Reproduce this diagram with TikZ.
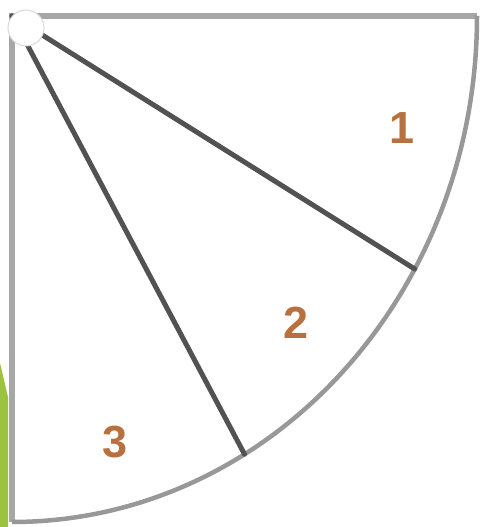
\documentclass[tikz,border=0pt]{standalone}
\usepackage{xcolor}
\usepackage{fontspec}
\newfontfamily\labelfont{Liberation Sans}
\usepackage{tikz}
\usetikzlibrary{calc}
\definecolor{rimgray}{RGB}{152,152,152}
\definecolor{spokegray}{RGB}{82,82,82}
\definecolor{numorange}{RGB}{184,112,62}
\definecolor{slidegreen}{RGB}{155,195,63}
\tikzset{
  sec rim/.style={
    line width=4.5pt,
    draw=rimgray,
  },
  sec edge/.style={
    line width=6pt,
    draw=rimgray!85,
  },
  sec spoke/.style={
    line width=5pt,
    draw=spokegray,
    line cap=round,
  },
  sec hub/.style={
    circle,
    minimum size=36pt,
    inner sep=0pt,
    fill=white,
    draw=black!15,
    line width=1pt,
  },
  sec label/.style={
    font=\labelfont\bfseries\fontsize{45}{45}\selectfont,
    text=numorange,
    inner sep=0pt,
  },
}

\begin{document}
\begin{tikzpicture}[x=1pt,y=1pt]
  \useasboundingbox (0,0) rectangle (482,527);

  % green edge of the slide
  \fill[slidegreen] (0,164) -- (8,130) -- (8,0) -- (0,0) -- cycle;

  \coordinate (O) at (12,511);
  \coordinate (rimE) at (477,511);
  \coordinate (rimS) at (12,5);
  \coordinate (cut1) at ($(O)+(-30:465 and 506)$);
  \coordinate (cut2) at ($(O)+(-60:465 and 506)$);

  % outline of the quarter
  \draw[sec edge] (rimS) -- (O) -- (rimE);
  \draw[sec rim] (rimE)
    arc[start angle=0,end angle=-90,x radius=465,y radius=506];

  \draw[sec spoke] (O) -- (cut1);
  \draw[sec spoke] (O) -- (cut2);

  \node[sec hub] (hub) at (26,499) {};

  \node[sec label] (n1) at (402,399) {1};
  \node[sec label] (n2) at (296,204) {2};
  \node[sec label] (n3) at (115,85) {3};
\end{tikzpicture}
\end{document}
